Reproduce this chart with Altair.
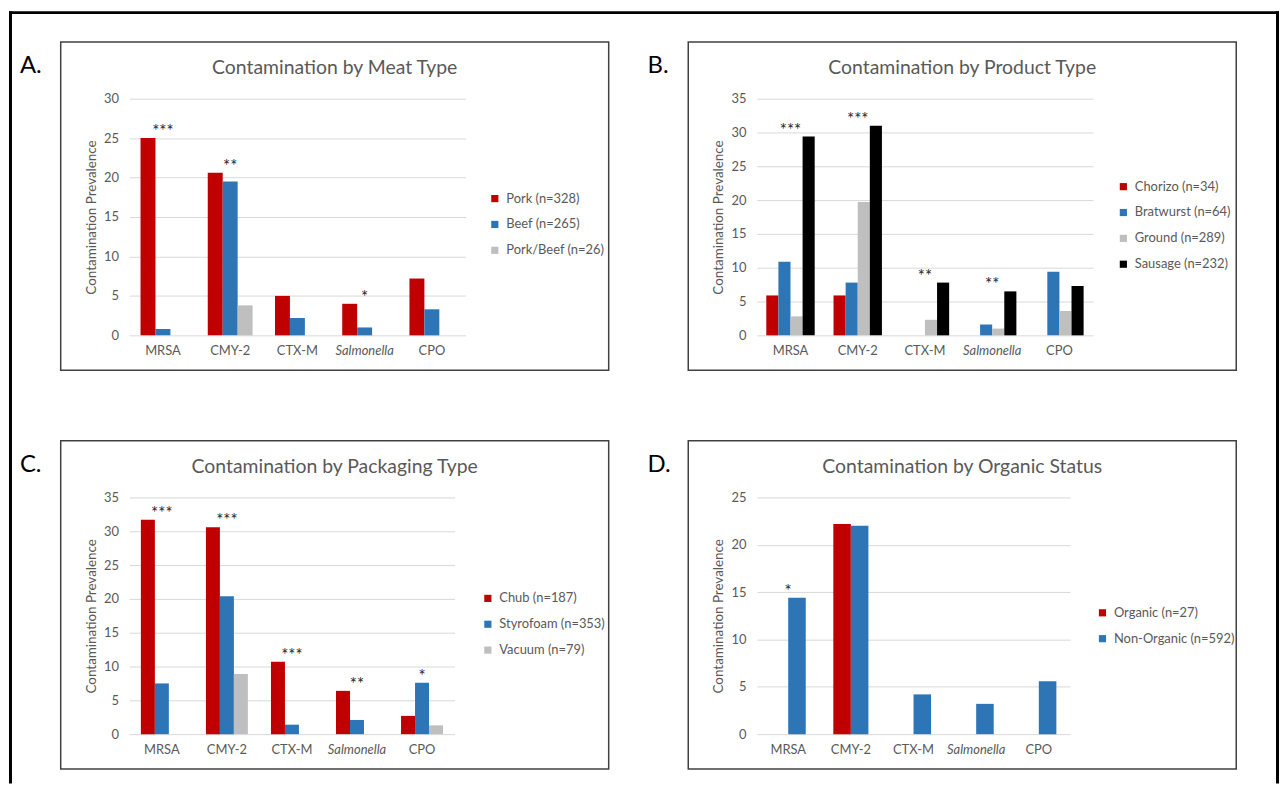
import altair as alt
import pandas as pd

categories = ["MRSA", "CMY-2", "CTX-M", "Salmonella", "CPO"]
red, blue, gray, black = "#C00000", "#2E75B6", "#BFBFBF", "#000000"

# Panel A
a_title = "Contamination by Meat Type"
a_series = ["Pork (n=328)", "Beef (n=265)", "Pork/Beef (n=26)"]
a_pork = [25.0, 20.6, 5.0, 4.0, 7.2]
a_beef = [0.8, 19.5, 2.2, 1.0, 3.3]
a_porkbeef = [0.0, 3.8, 0.0, 0.0, 0.0]
a_stars = ["***", "**", "", "*", ""]
a_ticks = [0, 5, 10, 15, 20, 25, 30]

# Panel B
b_title = "Contamination by Product Type"
b_series = ["Chorizo (n=34)", "Bratwurst (n=64)", "Ground (n=289)", "Sausage (n=232)"]
b_chorizo = [5.9, 5.9, 0.0, 0.0, 0.0]
b_bratwurst = [10.9, 7.8, 0.0, 1.6, 9.4]
b_ground = [2.8, 19.7, 2.3, 1.0, 3.6]
b_sausage = [29.4, 31.0, 7.8, 6.5, 7.3]
b_stars = ["***", "***", "**", "**", ""]
b_ticks = [0, 5, 10, 15, 20, 25, 30, 35]

# Panel C
c_title = "Contamination by Packaging Type"
c_series = ["Chub (n=187)", "Styrofoam (n=353)", "Vacuum (n=79)"]
c_chub = [31.7, 30.6, 10.7, 6.4, 2.7]
c_styrofoam = [7.5, 20.4, 1.4, 2.1, 7.6]
c_vacuum = [0.0, 8.9, 0.0, 0.0, 1.3]
c_stars = ["***", "***", "***", "**", "*"]
c_ticks = [0, 5, 10, 15, 20, 25, 30, 35]

# Panel D
d_title = "Contamination by Organic Status"
d_series = ["Organic (n=27)", "Non-Organic (n=592)"]
d_organic = [0.0, 22.2, 0.0, 0.0, 0.0]
d_nonorganic = [14.4, 22.0, 4.2, 3.2, 5.6]
d_stars = ["*", "", "", "", ""]
d_ticks = [0, 5, 10, 15, 20, 25]

FONT = "Lato"
TXT = "#595959"
H = 238
one = pd.DataFrame({"k": [0]})


def panel(letter, title, series, colors, values, stars, ticks, width, pad,
          leg_x, leg_y, outer=False):
    rows = []
    for s, vals in zip(series, values):
        for c, v in zip(categories, vals):
            rows.append({"category": c, "series": s, "value": v})
    df = pd.DataFrame(rows)
    tops = [max(v[i] for v in values) for i in range(len(categories))]
    sdf = pd.DataFrame({"category": categories, "stars": stars, "value": tops})
    sdf = sdf[sdf["stars"] != ""]

    x = alt.X(
        "category:N", sort=categories,
        scale=alt.Scale(domain=categories, paddingInner=pad, paddingOuter=pad / 2),
        axis=alt.Axis(title=None, labelAngle=0, ticks=False, domain=False,
                      labelPadding=9, labelFontSize=13, labelColor=TXT, labelFont=FONT,
                      labelFontStyle=alt.ExprRef(expr="datum.value == 'Salmonella' ? 'italic' : 'normal'")),
    )
    y = alt.Y(
        "value:Q",
        scale=alt.Scale(domain=[ticks[0], ticks[-1]], nice=False),
        axis=alt.Axis(values=ticks, title="Contamination Prevalence", grid=True,
                      gridColor="#D9D9D9", gridWidth=1, domain=False, ticks=False,
                      labelPadding=11, labelFontSize=13, labelColor=TXT, labelFont=FONT,
                      titleFont=FONT, titleFontSize=13.5, titleFontWeight="normal",
                      titleColor=TXT, titleX=-38.5, titleY=H / 2, titleAngle=-90,
                      titleAlign="center", titleBaseline="middle"),
    )
    bars = alt.Chart(df).mark_bar().encode(
        x=x, y=y,
        xOffset=alt.XOffset("series:N", sort=series,
                            scale=alt.Scale(domain=series, paddingInner=0, paddingOuter=0)),
        color=alt.Color(
            "series:N",
            scale=alt.Scale(domain=series, range=colors),
            legend=alt.Legend(title=None, orient="none", legendX=leg_x, legendY=leg_y,
                              symbolType="square", symbolSize=52, symbolStrokeWidth=0,
                              labelFontSize=13, labelColor=TXT, labelFont=FONT,
                              rowPadding=12, padding=0, labelOffset=5),
        ),
    )
    star_layer = alt.Chart(sdf).mark_text(
        baseline="alphabetic", dy=-1, fontSize=17, font=FONT, color="#262626"
    ).encode(x=x, y=y, text="stars:N")

    frame = alt.Chart(one).mark_rect(fill="transparent", stroke="#404040", strokeWidth=1.5).encode(
        x=alt.value(-69), x2=alt.value(482), y=alt.value(-57), y2=alt.value(273)
    )
    ttl = alt.Chart(one).mark_text(align="center", baseline="middle", fontSize=19.5,
                                   font=FONT, color=TXT).encode(
        x=alt.value(206.5), y=alt.value(-31), text=alt.value(title))
    lab = alt.Chart(one).mark_text(align="left", baseline="middle", fontSize=24,
                                   font=FONT, color="black").encode(
        x=alt.value(-110), y=alt.value(-33), text=alt.value(letter))
    layers = [frame, bars, star_layer, ttl, lab]
    if outer:
        l = alt.Chart(one).mark_rule(color="black", strokeWidth=3, strokeCap="square").encode(
            x=alt.value(-119.5), y=alt.value(-86.5), y2=alt.value(687))
        t = alt.Chart(one).mark_rule(color="black", strokeWidth=3, strokeCap="square").encode(
            x=alt.value(-119.5), x2=alt.value(1154.5), y=alt.value(-86.5))
        r = alt.Chart(one).mark_rule(color="black", strokeWidth=3, strokeCap="square").encode(
            x=alt.value(1154.5), y=alt.value(-86.5), y2=alt.value(687))
        layers += [l, t, r]
    return alt.layer(*layers).properties(width=width, height=H)


A = panel("A.", a_title, a_series, [red, blue, gray], [a_pork, a_beef, a_porkbeef],
          a_stars, a_ticks, 338, 0.333, 361, 94, outer=True)
B = panel("B.", b_title, b_series, [red, blue, gray, black],
          [b_chorizo, b_bratwurst, b_ground, b_sausage], b_stars, b_ticks, 338, 0.28, 362, 82)
C = panel("C.", c_title, c_series, [red, blue, gray], [c_chub, c_styrofoam, c_vacuum],
          c_stars, c_ticks, 327, 0.355, 354, 95)
D = panel("D.", d_title, d_series, [red, blue], [d_organic, d_nonorganic],
          d_stars, d_ticks, 315, 0.44, 341, 109.5)

chart = alt.concat(
    A, B, C, D, columns=2, bounds="flush",
    spacing={"row": 163, "column": 293},
).resolve_scale(
    x="independent", y="independent", color="independent", xOffset="independent"
).configure_view(stroke=None).properties(padding=0)

chart.save("out.html", embed_options={"renderer": "svg", "actions": False})
